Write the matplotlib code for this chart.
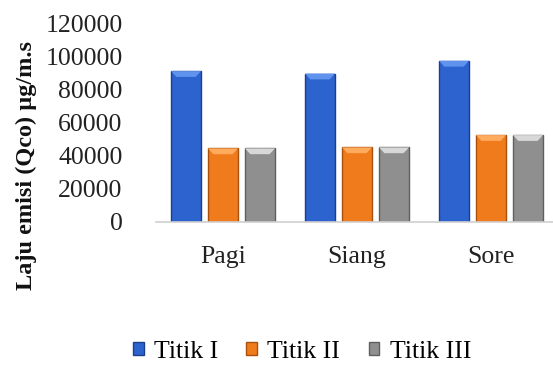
import numpy as np
import matplotlib
matplotlib.use("Agg")
import matplotlib.pyplot as plt
from matplotlib.patches import Polygon, Patch

# Emission rate of CO per observation point and time of day
categories = ["Pagi", "Siang", "Sore"]
series_names = ["Titik I", "Titik II", "Titik III"]
titik_1 = [91000, 89500, 97200]
titik_2 = [44400, 45000, 52400]
titik_3 = [44400, 45000, 52400]
y_ticks = [0, 20000, 40000, 60000, 80000, 100000, 120000]

face_colors = ["#2d63cf", "#f07b1c", "#8f8f8f"]
edge_colors = ["#1c3f8a", "#a9510c", "#5f5f5f"]
top_colors = ["#5f93ee", "#ffab5e", "#d8d8d8"]

plt.rcParams["font.family"] = ["Liberation Serif", "DejaVu Serif"]

fig = plt.figure(figsize=(5.53, 3.71), dpi=100)
W, H = 553, 371
ax = fig.add_axes([156 / W, 1 - 222 / H, 402 / W, 199 / H])

x = np.arange(len(categories))
width = 0.224
offsets = [-0.276, 0.0, 0.276]
all_series = [titik_1, titik_2, titik_3]

for vals, off, fc, ec, tc in zip(all_series, offsets, face_colors, edge_colors, top_colors):
    xs = x + off
    ax.bar(xs, vals, width=width, color=fc, edgecolor=ec, linewidth=1.0, zorder=2)
    # bevelled top cap of each bar
    for xc, v in zip(xs, vals):
        cap = 3500
        inset = width * 0.18
        poly = Polygon([[xc - width / 2, v], [xc + width / 2, v],
                        [xc + width / 2 - inset, v - cap], [xc - width / 2 + inset, v - cap]],
                       closed=True, facecolor=tc, edgecolor="none", zorder=3)
        ax.add_patch(poly)

ax.set_xlim(-0.5, 2.5)
ax.set_ylim(0, 120000)
ax.set_yticks(y_ticks)
ax.set_yticklabels([str(t) for t in y_ticks], fontsize=18.5, color="#222222")
ax.set_xticks(x)
ax.set_xticklabels(categories, fontsize=18.5, color="#222222")
ax.tick_params(axis="y", length=0, pad=24)
ax.tick_params(axis="x", length=0, pad=17)

for side in ["top", "right", "left"]:
    ax.spines[side].set_visible(False)
ax.spines["bottom"].set_color("#d0d0d0")
ax.spines["bottom"].set_linewidth(1.2)

fig.text(26 / W, 1 - 166 / H, "Laju emisi (Qco) µg/m.s", rotation=90,
         ha="center", va="center", fontsize=17.5, fontweight="bold", color="#111111")

handles = [Patch(facecolor=fc, edgecolor=ec) for fc, ec in zip(face_colors, edge_colors)]
fig.legend(handles, series_names, loc="center", bbox_to_anchor=(302 / W, 1 - 352 / H),
           ncol=3, frameon=False, fontsize=18.5, handlelength=0.42, handleheight=0.42,
           handletextpad=0.4, columnspacing=1.1)

fig.savefig("out.png", dpi=100)
